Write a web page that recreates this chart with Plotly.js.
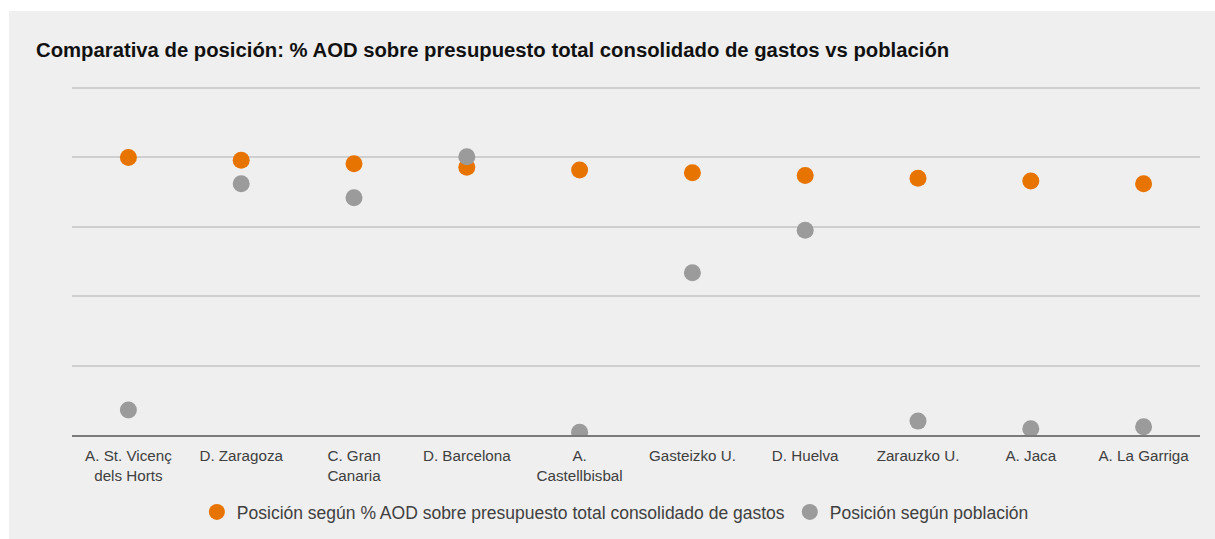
<!DOCTYPE html>
<html><head><meta charset="utf-8">
<script src="https://cdn.plot.ly/plotly-3.0.1.min.js"></script>
<style>html,body{margin:0;padding:0;background:#fff;}#chart{position:absolute;left:9px;top:11px;width:1206px;height:528px;}</style>
</head><body><div id="chart"></div>
<script>
var categories = ["A. St. Vicenç<br>dels Horts","D. Zaragoza","C. Gran<br>Canaria","D. Barcelona","A.<br>Castellbisbal","Gasteizko U.","D. Huelva","Zarauzko U.","A. Jaca","A. La Garriga"];
var posAOD = [4.00, 3.96, 3.91, 3.86, 3.82, 3.78, 3.74, 3.70, 3.66, 3.62];
var posPoblacion = [0.36, 3.62, 3.42, 4.01, 0.04, 2.34, 2.95, 0.20, 0.09, 0.12];
var seriesNames = ["Posición según % AOD sobre presupuesto total consolidado de gastos","Posición según población"];

var traces = [
 {x: categories, y: posAOD, name: seriesNames[0], type:'scatter', mode:'markers', marker:{color:'#e87400', size:17}},
 {x: categories, y: posPoblacion, name: seriesNames[1], type:'scatter', mode:'markers', marker:{color:'#9b9b9b', size:17}}
];
var layout = {
 width:1206, height:528,
 paper_bgcolor:'#efefef', plot_bgcolor:'#efefef',
 margin:{l:63, r:15, t:75, b:104, autoexpand:false},
 font:{family:'Liberation Sans, Arial, sans-serif', color:'#404040', size:14},
 title:{text:'<b>Comparativa de posición: % AOD sobre presupuesto total consolidado de gastos vs población</b>', x:27/1206, xref:'container', xanchor:'left', y:1-39/528, yref:'container', yanchor:'middle', font:{size:20.3, color:'#111'}},
 xaxis:{type:'category', range:[-0.5, 9.5], showgrid:false, showline:true, linecolor:'#7a7a7a', linewidth:2, ticks:'', ticklabelstandoff:6, tickfont:{size:15.2, color:'#404040'}, fixedrange:true},
 yaxis:{range:[0,5.03], dtick:1, showticklabels:false, showgrid:true, gridcolor:'#cfcfcf', gridwidth:2, zeroline:false, showline:false, fixedrange:true},
 legend:{orientation:'h', x:0.4817, xanchor:'center', y:1-483/528, yref:'container', yanchor:'top', font:{size:17.5, color:'#404040'}, itemwidth:30},
 showlegend:true
};
Plotly.newPlot('chart', traces, layout, {displayModeBar:false, staticPlot:true});
</script></body></html>
